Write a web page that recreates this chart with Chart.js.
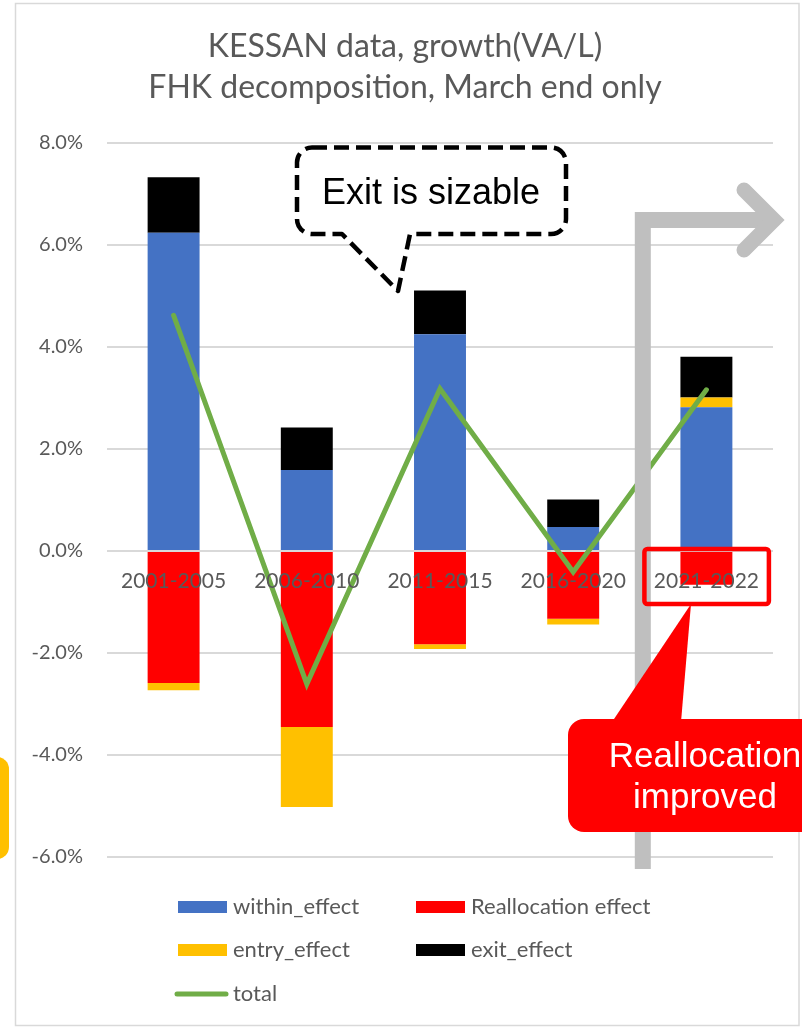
<!DOCTYPE html>
<html>
<head>
<meta charset="utf-8">
<script src="https://cdn.jsdelivr.net/npm/chart.js@4.4.1/dist/chart.umd.min.js"></script>
<style>
  html, body { margin: 0; padding: 0; background: #ffffff; }
  #wrap { width: 802px; height: 1027px; position: relative; }
</style>
</head>
<body>
<div id="wrap"><canvas id="fhk" width="802" height="1027"></canvas></div>
<script>
// FHK decomposition of labour productivity growth (VA/L), % per year
const periods = ['2001-2005', '2006-2010', '2011-2015', '2016-2020', '2021-2022'];
const withinEffect = [6.24, 1.59, 4.25, 0.47, 2.82];
const reallocationEffect = [-2.59, -3.45, -1.83, -1.33, -0.66];
const entryEffect = [-0.14, -1.57, -0.09, -0.11, 0.19];
const exitEffect = [1.09, 0.83, 0.86, 0.54, 0.80];
const totalGrowth = [4.62, -2.61, 3.18, -0.41, 3.16];

const seriesNames = ['within_effect', 'Reallocation effect', 'entry_effect', 'exit_effect', 'total'];
const seriesColors = ['#4472C4', '#FF0000', '#FFC000', '#000000', '#70AD47'];
const yTickValues = [-6, -4, -2, 0, 2, 4, 6, 8];

const TEXT_GREY = '#595959';
const FONT = 'Lato';

// Outer frame, drawn beneath everything
const framePlugin = {
  id: 'frame',
  beforeDraw(chart) {
    const ctx = chart.ctx;
    ctx.save();
    ctx.strokeStyle = '#D9D9D9';
    ctx.lineWidth = 1.5;
    ctx.strokeRect(15.5, 3.5, 783.5, 1022);
    ctx.restore();
  }
};

// Two-column legend in the lower part of the frame
const gridLegend = {
  id: 'gridLegend',
  afterDraw(chart) {
    const ctx = chart.ctx;
    const cols = [178, 416];
    const rows = [907, 950, 994];
    ctx.save();
    ctx.font = '22px ' + FONT;
    ctx.textBaseline = 'middle';
    ctx.textAlign = 'left';
    chart.data.datasets.forEach((ds, i) => {
      const x = cols[i % 2];
      const y = rows[Math.floor(i / 2)];
      if (ds.type === 'line') {
        ctx.strokeStyle = ds.borderColor;
        ctx.lineWidth = 5;
        ctx.lineCap = 'round';
        ctx.beginPath();
        ctx.moveTo(x - 1, y);
        ctx.lineTo(x + 48, y);
        ctx.stroke();
      } else {
        ctx.fillStyle = ds.backgroundColor;
        ctx.fillRect(x, y - 6, 49, 12);
      }
      ctx.fillStyle = TEXT_GREY;
      ctx.fillText(ds.label, x + 55, y);
    });
    ctx.restore();
  }
};

function roundedRectPath(ctx, x, y, w, h, r) {
  ctx.moveTo(x + r, y);
  ctx.lineTo(x + w - r, y);
  ctx.arcTo(x + w, y, x + w, y + r, r);
  ctx.lineTo(x + w, y + h - r);
  ctx.arcTo(x + w, y + h, x + w - r, y + h, r);
  ctx.lineTo(x + r, y + h);
  ctx.arcTo(x, y + h, x, y + h - r, r);
  ctx.lineTo(x, y + r);
  ctx.arcTo(x, y, x + r, y, r);
  ctx.closePath();
}

// Call-outs and the grey step arrow
const notesPlugin = {
  id: 'notes',
  afterDraw(chart) {
    const ctx = chart.ctx;
    const xs = chart.scales.x;
    const ys = chart.scales.y;
    ctx.save();

    // grey step arrow between 2016-2020 and 2021-2022
    const stepX = (xs.getPixelForValue(3) + xs.getPixelForValue(4)) / 2 + 3;
    const armY = 220;
    ctx.strokeStyle = '#BFBFBF';
    ctx.lineWidth = 16;
    ctx.lineJoin = 'miter';
    ctx.lineCap = 'butt';
    ctx.beginPath();
    ctx.moveTo(stepX, ys.getPixelForValue(-6) + 12);
    ctx.lineTo(stepX, armY);
    ctx.lineTo(775, armY);
    ctx.stroke();
    ctx.lineWidth = 15;
    ctx.lineCap = 'round';
    ctx.beginPath();
    ctx.moveTo(744, armY - 30);
    ctx.lineTo(774, armY);
    ctx.lineTo(744, armY + 30);
    ctx.stroke();

    // red frame around the latest period label
    const lx = xs.getPixelForValue(4);
    ctx.strokeStyle = '#FF0000';
    ctx.lineWidth = 4.5;
    ctx.lineJoin = 'round';
    ctx.beginPath();
    roundedRectPath(ctx, lx - 62, 549, 124.5, 55, 3);
    ctx.stroke();

    // red call-out
    ctx.fillStyle = '#FF0000';
    ctx.beginPath();
    roundedRectPath(ctx, 568, 719, 300, 113, 16);
    ctx.fill();
    ctx.beginPath();
    ctx.moveTo(612, 722);
    ctx.lineTo(691, 604);
    ctx.lineTo(681, 722);
    ctx.closePath();
    ctx.fill();
    ctx.fillStyle = '#FFFFFF';
    ctx.font = '35px "Liberation Sans", Arial, sans-serif';
    ctx.textAlign = 'center';
    ctx.textBaseline = 'alphabetic';
    ctx.fillText('Reallocation', 705, 767);
    ctx.fillText('improved', 705, 808);

    // dashed speech bubble
    ctx.beginPath();
    const bx = 297, by = 147.5, bw = 269, bh = 86.5, r = 15;
    ctx.moveTo(bx + r, by);
    ctx.lineTo(bx + bw - r, by);
    ctx.arcTo(bx + bw, by, bx + bw, by + r, r);
    ctx.lineTo(bx + bw, by + bh - r);
    ctx.arcTo(bx + bw, by + bh, bx + bw - r, by + bh, r);
    ctx.lineTo(410, by + bh);
    ctx.lineTo(398, 291);
    ctx.lineTo(342, by + bh);
    ctx.lineTo(bx + r, by + bh);
    ctx.arcTo(bx, by + bh, bx, by + bh - r, r);
    ctx.lineTo(bx, by + r);
    ctx.arcTo(bx, by, bx + r, by, r);
    ctx.closePath();
    ctx.fillStyle = '#FFFFFF';
    ctx.fill();
    ctx.setLineDash([15, 7]);
    ctx.lineWidth = 4.5;
    ctx.strokeStyle = '#000000';
    ctx.lineJoin = 'round';
    ctx.lineCap = 'butt';
    ctx.stroke();
    ctx.setLineDash([]);
    ctx.fillStyle = '#000000';
    ctx.font = '36px "Liberation Sans", Arial, sans-serif';
    ctx.textAlign = 'center';
    ctx.fillText('Exit is sizable', 431, 204);

    // yellow call-out edge at the left margin
    ctx.fillStyle = '#FFC000';
    ctx.beginPath();
    roundedRectPath(ctx, -60, 757, 69, 102, 12);
    ctx.fill();

    ctx.restore();
  }
};

const barSet = (i, values) => ({
  type: 'bar',
  label: seriesNames[i],
  data: values,
  backgroundColor: seriesColors[i],
  borderWidth: 0,
  stack: 'fhk',
  order: 1,
  barPercentage: 0.39,
  categoryPercentage: 1.0
});

new Chart(document.getElementById('fhk'), {
  type: 'bar',
  data: {
    labels: periods,
    datasets: [
      barSet(0, withinEffect),
      barSet(1, reallocationEffect),
      barSet(2, entryEffect),
      barSet(3, exitEffect),
      {
        type: 'line',
        label: seriesNames[4],
        data: totalGrowth,
        borderColor: seriesColors[4],
        backgroundColor: seriesColors[4],
        borderWidth: 5,
        borderCapStyle: 'round',
        borderJoinStyle: 'miter',
        pointRadius: 0,
        tension: 0,
        fill: false,
        stack: 'total',
        order: 0
      }
    ]
  },
  options: {
    responsive: false,
    devicePixelRatio: 1,
    animation: false,
    layout: { padding: { left: 15, right: 7, top: 0, bottom: 170 } },
    plugins: {
      legend: { display: false },
      tooltip: { enabled: false },
      title: {
        display: true,
        text: ['KESSAN data, growth(VA/L)', 'FHK decomposition, March end only'],
        color: TEXT_GREY,
        font: { family: FONT, size: 32, weight: 'normal', lineHeight: 41 / 32 },
        padding: { top: 26, bottom: 35 }
      }
    },
    scales: {
      x: {
        stacked: true,
        position: { y: 0 },
        grid: { display: false },
        border: { display: false },
        ticks: {
          z: 1,
          color: TEXT_GREY,
          font: { family: FONT, size: 21 },
          padding: 10,
          autoSkip: false,
          maxRotation: 0
        }
      },
      y: {
        stacked: true,
        min: yTickValues[0],
        max: yTickValues[yTickValues.length - 1],
        afterBuildTicks(scale) {
          scale.ticks = yTickValues.map(v => ({ value: v }));
        },
        afterFit(scale) { scale.width = 92; },
        grid: { color: '#D9D9D9', lineWidth: 2, drawTicks: false },
        border: { display: false },
        ticks: {
          color: TEXT_GREY,
          font: { family: FONT, size: 20 },
          padding: 24,
          callback: v => v.toFixed(1) + '%'
        }
      },
      // empty right-hand margin axis
      margin: {
        type: 'linear',
        axis: 'y',
        position: 'right',
        display: true,
        grid: { display: false },
        border: { display: false },
        ticks: { display: false },
        afterFit(scale) { scale.width = 22; }
      }
    }
  },
  plugins: [framePlugin, gridLegend, notesPlugin]
});
</script>
</body>
</html>
